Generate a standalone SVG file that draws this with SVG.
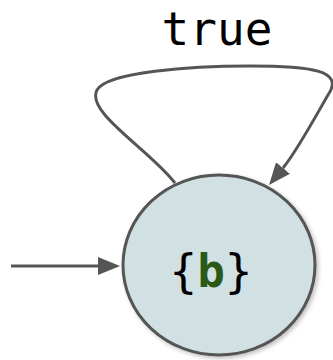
<svg xmlns="http://www.w3.org/2000/svg" width="333" height="360" viewBox="0 0 333 360">
<style>
.edge{fill:none;stroke:#555;stroke-width:3}
.lbl{font-family:"DejaVu Sans Mono","Liberation Mono",monospace;font-size:46px;fill:#000}
.state{fill:#d1e0e3;stroke:#555;stroke-width:3}
</style>
<defs>
<marker id="ah" markerUnits="userSpaceOnUse" markerWidth="24" markerHeight="20" viewBox="0 -10 24 20" refX="0" refY="0" orient="auto">
<path d="M0,-9 L22,0 L0,9 z" fill="#555"/>
</marker>
<filter id="sh" x="-20%" y="-20%" width="140%" height="140%">
<feDropShadow dx="2" dy="2" stdDeviation="2" flood-color="#000" flood-opacity="0.25"/>
</filter>
</defs>
<g id="connectors">
<path class="edge" d="M11,266 L98,266" marker-end="url(#ah)"/>
<path class="edge" d="M175,183 C150,150 85,112 97,90 C107,72 190,66 250,66 C310,66 345,70 328,95 C318,112 297,151 283,168" marker-end="url(#ah)"/>
<text class="lbl" x="217" y="45" text-anchor="middle">true</text>
</g>
<g id="node-b">
<ellipse class="state" cx="219" cy="265" rx="96" ry="90" filter="url(#sh)"/>
<text class="lbl" x="211" y="287" text-anchor="middle">{<tspan fill="#2b5a16" font-weight="bold">b</tspan>}</text>
</g>
</svg>
